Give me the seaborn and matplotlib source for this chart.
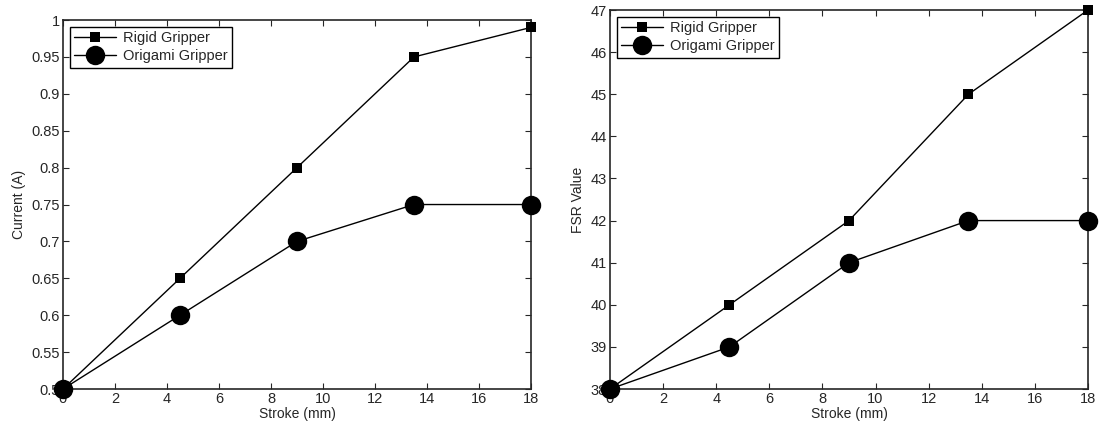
import numpy as np
import pandas as pd

import matplotlib as mpl
import matplotlib.pyplot as plt

import seaborn as sns

STROKE = [0, 4.5, 9, 13.5, 18]
CURRENT_RIGID = [0.5, 0.65, 0.8, 0.95, 0.99]
CURRENT_ORIGAMI = [0.5, 0.6, 0.7, 0.75, 0.75]
FSR_RIGID = [38, 40, 42, 45, 47]
FSR_ORIGAMI = [38, 39, 41, 42, 42]
SERIES = ['Rigid Gripper', 'Origami Gripper']
MARKER_SIZES = [7, 14]


def make_frame(rigid, origami):
    return pd.DataFrame({
        'stroke': STROKE * 2,
        'value': rigid + origami,
        'series': [SERIES[0]] * len(STROKE) + [SERIES[1]] * len(STROKE),
    })


def draw(ax, df, ylabel, ylim, yticks, yticklabels):
    sns.lineplot(data=df, x='stroke', y='value', hue='series', style='series',
                 palette=['black', 'black'], markers=['s', 'o'], dashes=False,
                 linewidth=1, ax=ax, legend=True)
    for line, ms in zip(ax.get_lines()[:2], MARKER_SIZES):
        line.set_markersize(ms)
        line.set_markeredgewidth(0)
        line.set_clip_on(False)
        line.set_zorder(5)
    ax.set_xlim(0, 18)
    ax.set_ylim(*ylim)
    ax.set_xticks(range(0, 19, 2))
    ax.set_yticks(yticks)
    ax.set_yticklabels(yticklabels)
    ax.set_xlabel('Stroke (mm)', fontsize=10, labelpad=1)
    ax.set_ylabel(ylabel, fontsize=10, labelpad=4)
    ax.tick_params(direction='in', top=True, right=True, labelsize=10.5,
                   length=4, width=0.8, pad=2)
    for s in ax.spines.values():
        s.set_linewidth(1.2)
        s.set_visible(True)
    handles, labels = ax.get_legend_handles_labels()
    for h, ms in zip(handles, MARKER_SIZES):
        h.set_markersize(ms)
        h.set_markeredgewidth(0)
    leg = ax.legend(handles, labels, loc='upper left', fontsize=10.5,
                    frameon=True, fancybox=False, edgecolor='black',
                    framealpha=1, borderpad=0.3, handlelength=2.9,
                    handletextpad=0.45, labelspacing=0.3,
                    borderaxespad=0.45)
    leg.get_frame().set_linewidth(1)
    leg.set_zorder(10)


def main():
    sns.set_style('ticks')
    plt.rcParams['font.family'] = ['Liberation Sans', 'DejaVu Sans']
    fig = plt.figure(figsize=(11.03, 4.30), dpi=100)
    ax1 = fig.add_axes([0.0571, 0.0953, 0.4243, 0.8581])
    ax2 = fig.add_axes([0.5530, 0.0953, 0.4334, 0.8814])

    yt1 = [0.5 + 0.05 * i for i in range(11)]
    yl1 = ['0.5', '0.55', '0.6', '0.65', '0.7', '0.75', '0.8', '0.85',
           '0.9', '0.95', '1']
    draw(ax1, make_frame(CURRENT_RIGID, CURRENT_ORIGAMI), 'Current (A)',
         (0.5, 1.0), yt1, yl1)
    yt2 = list(range(38, 48))
    draw(ax2, make_frame(FSR_RIGID, FSR_ORIGAMI), 'FSR Value',
         (38, 47), yt2, [str(v) for v in yt2])

    fig.savefig('out.png', dpi=100)


if __name__ == "__main__":
    main()
